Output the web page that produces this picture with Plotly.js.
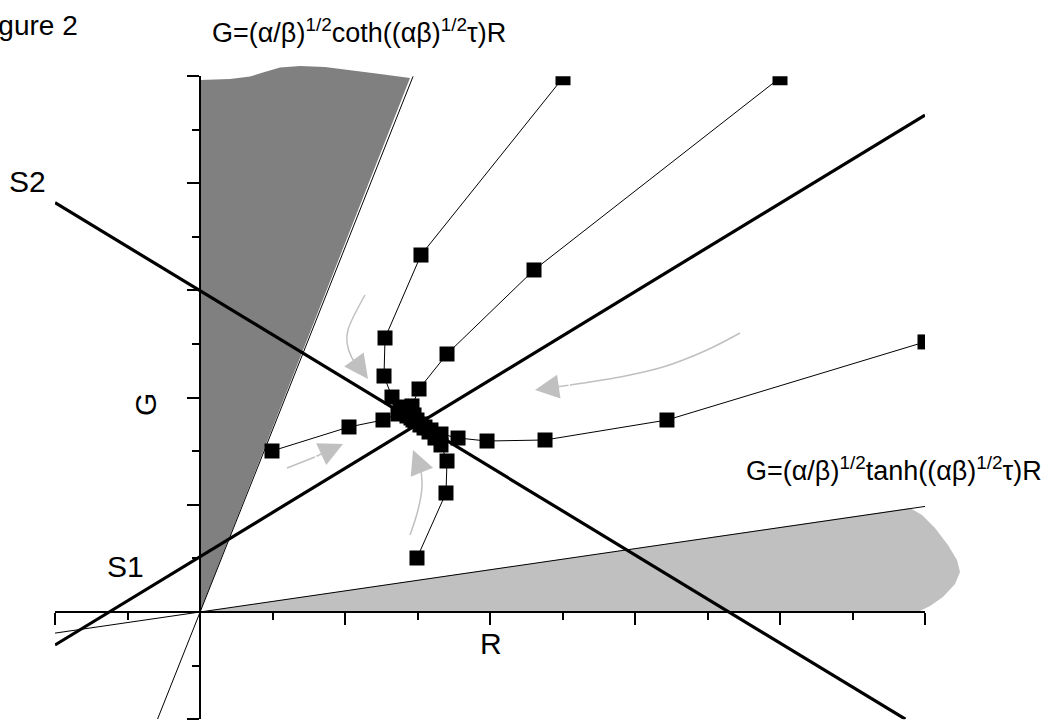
<!DOCTYPE html>
<html><head><meta charset="utf-8">
<script src="https://cdn.plot.ly/plotly-3.0.1.min.js"></script>
<style>body{margin:0;background:#fff;} #chart{width:1046px;height:720px;}</style>
</head><body><div id="chart"></div>
<script>
// ---- straight lines (data units: R on x, G on y) ----
const s1X = [-2, 10], s1Y = [-0.616, 9.275];
const s2X = [-2, 9.73], s2Y = [7.64, -2];
const cothLineX = [-0.586, 2.94], cothLineY = [-2, 10.0];
const tanhLineX = [-2, 10.03], tanhLineY = [-0.394, 1.976];

// ---- shaded regions ----
const cothRegionX = [0, 2.897, 2.483, 2.069, 1.724, 1.379, 1.103, 0.869, 0.690, 0.414, 0, 0];
const cothRegionY = [0, 9.966, 10.040, 10.115, 10.171, 10.190, 10.162, 10.068, 9.994, 9.947, 9.929, 0];
const tanhRegionX = [0, 9.793, 9.959, 10.138, 10.317, 10.441, 10.483, 10.414, 10.248, 10.069, 9.903, 0];
const tanhRegionY = [0, 1.941, 1.810, 1.568, 1.250, 0.970, 0.746, 0.523, 0.280, 0.112, 0, 0];

// ---- trajectories (R, G) ----
const traj1R = [5.007, 3.048, 2.552, 2.538, 2.648, 2.759, 2.841, 2.910, 2.966];
const traj1G = [9.97, 6.662, 5.114, 4.404, 4.012, 3.826, 3.714, 3.621, 3.565];
const traj2R = [8.0, 4.607, 3.407, 3.021, 2.924, 2.952, 2.993];
const traj2G = [9.97, 6.383, 4.815, 4.162, 3.845, 3.677, 3.583];
const traj3R = [10.0, 6.441, 4.759, 3.959, 3.559, 3.324, 3.186, 3.103, 3.048];
const traj3G = [5.04, 3.583, 3.210, 3.191, 3.247, 3.322, 3.397, 3.453, 3.509];
const traj4R = [0.993, 2.055, 2.524, 2.731, 2.855, 2.938];
const traj4G = [3.005, 3.453, 3.583, 3.695, 3.658, 3.583];
const traj5R = [2.993, 3.393, 3.407, 3.324, 3.241, 3.159, 3.090, 3.034];
const traj5G = [1.008, 2.221, 2.818, 3.117, 3.247, 3.359, 3.434, 3.490];

// ---- flow arrows (R, G), last point is the arrow tip ----
const arrow1R = [2.276, 2.041, 2.028, 2.097, 2.207, 2.317];
const arrow1G = [5.916, 5.263, 5.020, 4.740, 4.554, 4.348];
const arrow2R = [1.200, 1.586, 1.972];
const arrow2G = [2.687, 2.893, 3.135];
const arrow3R = [2.897, 3.007, 3.062, 3.048, 2.938];
const arrow3G = [1.437, 1.904, 2.333, 2.650, 3.023];
const arrow4R = [7.448, 6.993, 6.386, 5.793, 5.103, 4.621];
const arrow4G = [5.207, 4.890, 4.572, 4.386, 4.236, 4.143];

// ---- texts ----
const figLabel = 'Figure 2';
const cothLabel = 'G=(α/β)<sup>1/2</sup>coth((αβ)<sup>1/2</sup>τ)R';
const tanhLabel = 'G=(α/β)<sup>1/2</sup>tanh((αβ)<sup>1/2</sup>τ)R';
const xTitle = 'R', yTitle = 'G';
const s1Label = 'S1', s2Label = 'S2';

const W = 1046, H = 720;
const FONT = 'Liberation Sans, Arial, sans-serif';
const uy = 643 / 12;

const traces = [];
traces.push({x: cothRegionX, y: cothRegionY, xaxis: 'x', yaxis: 'y', mode: 'lines', fill: 'toself',
  fillcolor: '#808080', line: {width: 0, color: '#808080'}, hoverinfo: 'skip'});
traces.push({x: tanhRegionX, y: tanhRegionY, xaxis: 'x', yaxis: 'y', mode: 'lines', fill: 'toself',
  fillcolor: '#c0c0c0', line: {width: 0, color: '#c0c0c0'}, hoverinfo: 'skip'});

function line(x, y, w) {
  traces.push({x, y, xaxis: 'x2', yaxis: 'y2', mode: 'lines', line: {color: 'black', width: w}, hoverinfo: 'skip'});
}
line(cothLineX, cothLineY, 1);
line(tanhLineX, tanhLineY, 1);
line(s1X, s1Y, 3.2);
line(s2X, s2Y, 3.2);

const arrows = [[arrow1R, arrow1G], [arrow2R, arrow2G], [arrow3R, arrow3G], [arrow4R, arrow4G]];
const annotations = [];
arrows.forEach(([ax, ay]) => {
  const n = ax.length;
  traces.push({x: ax.slice(0, n - 1), y: ay.slice(0, n - 1), xaxis: 'x2', yaxis: 'y2', mode: 'lines',
    line: {color: '#c0c0c0', width: 1.5, shape: 'spline'}, hoverinfo: 'skip'});
  annotations.push({xref: 'x2', yref: 'y2', axref: 'x2', ayref: 'y2', x: ax[n - 1], y: ay[n - 1],
    ax: ax[n - 2], ay: ay[n - 2], text: '', showarrow: true, arrowhead: 2, arrowsize: 3.2,
    arrowwidth: 1.5, arrowcolor: '#c0c0c0', standoff: 0, startstandoff: 0});
});

[[traj1R, traj1G], [traj2R, traj2G], [traj3R, traj3G], [traj4R, traj4G], [traj5R, traj5G]].forEach(([r, g]) => {
  traces.push({x: r, y: g, xaxis: 'x2', yaxis: 'y2', mode: 'lines+markers',
    line: {color: 'black', width: 1}, marker: {symbol: 'square', size: 15, color: 'black'}, hoverinfo: 'skip'});
});
// keep the axes subplot alive
traces.push({x: [], y: [], xaxis: 'x2', yaxis: 'y2', mode: 'markers'});

function txt(text, px, py, size, opts) {
  annotations.push(Object.assign({xref: 'paper', yref: 'paper', x: px / W, y: 1 - py / H, text,
    showarrow: false, xanchor: 'left', yanchor: 'middle', font: {family: FONT, size: size, color: 'black'}}, opts || {}));
}
txt(figLabel, -27, 26, 28);
txt(cothLabel, 210, 31, 27);
txt(tanhLabel, 744, 469, 27);
txt(s2Label, 7, 181, 30);
txt(s1Label, 105, 566, 30);
txt(xTitle, 491, 643, 30, {xanchor: 'center'});
txt(yTitle, 145, 405, 30, {xanchor: 'center', textangle: -90});

const axStyle = {showline: true, linewidth: 2, linecolor: 'black', ticks: 'outside', ticklen: 12, tickwidth: 2,
  tickcolor: 'black', tick0: 0, dtick: 2, showticklabels: false, showgrid: false, zeroline: false,
  minor: {ticks: 'outside', ticklen: 7, tickwidth: 2, tickcolor: 'black', dtick: 1, showgrid: false},
  range: [-2, 10], fixedrange: true};

const layout = {
  width: W, height: H, margin: {l: 0, r: 0, t: 0, b: 0}, showlegend: false,
  paper_bgcolor: 'white', plot_bgcolor: 'rgba(0,0,0,0)',
  xaxis: {domain: [0, 1], range: [-200 / 72.5, 846 / 72.5], visible: false, fixedrange: true},
  yaxis: {domain: [0, 1], range: [(612 - 720) / uy, 612 / uy], visible: false, fixedrange: true},
  xaxis2: Object.assign({}, axStyle, {domain: [55 / W, 925 / W], anchor: 'free', position: (H - 612) / H}),
  yaxis2: Object.assign({}, axStyle, {domain: [(H - 612 - 2 * uy) / H, (H - 612 + 10 * uy) / H], anchor: 'free', position: 200 / W}),
  annotations
};
Plotly.newPlot('chart', traces, layout, {staticPlot: true, displayModeBar: false});
</script></body></html>
